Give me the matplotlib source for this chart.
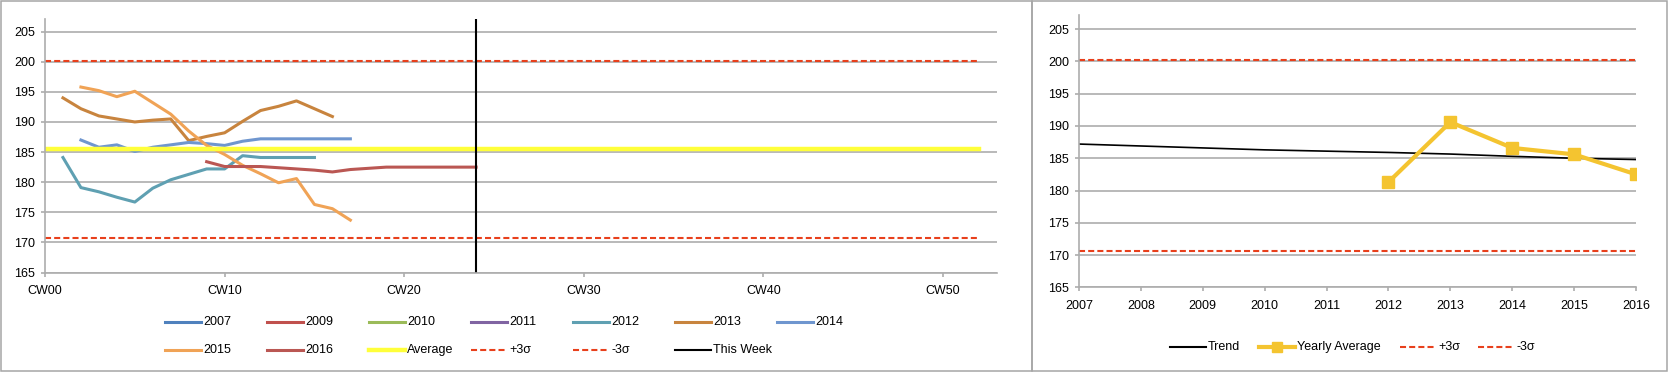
import matplotlib
matplotlib.use("Agg")
import matplotlib.pyplot as plt
from matplotlib.lines import Line2D
from matplotlib.patches import Rectangle

# ---- data: left chart (weekly values per year) ----
WEEK_TICKS = [0, 10, 20, 30, 40, 50]
WEEK_LABELS = ["CW00", "CW10", "CW20", "CW30", "CW40", "CW50"]

weeks_2012 = list(range(1, 16))
vals_2012 = [184.1, 179.1, 178.4, 177.5, 176.7, 179.0, 180.4, 181.3, 182.2, 182.2,
             184.4, 184.1, 184.1, 184.1, 184.1]
weeks_2013 = list(range(1, 17))
vals_2013 = [194.0, 192.2, 191.0, 190.5, 190.0, 190.3, 190.5, 186.9, 187.6, 188.2,
             190.1, 191.9, 192.6, 193.5, 192.2, 190.9]
weeks_2014 = list(range(2, 18))
vals_2014 = [187.0, 185.8, 186.2, 185.1, 185.8, 186.2, 186.6, 186.4, 186.1, 186.8,
             187.2, 187.2, 187.2, 187.2, 187.2, 187.2]
weeks_2015 = list(range(2, 18))
vals_2015 = [195.8, 195.2, 194.2, 195.1, 193.2, 191.3, 188.5, 186.1, 184.6, 182.8,
             181.4, 179.9, 180.6, 176.3, 175.6, 173.7]
weeks_2016 = list(range(9, 25))
vals_2016 = [183.4, 182.6, 182.6, 182.6, 182.4, 182.2, 182.0, 181.7, 182.1, 182.3,
             182.5, 182.5, 182.5, 182.5, 182.5, 182.5]

avg_weeks = [0, 52]
avg_vals = [185.5, 185.5]
plus3_vals = [200.2, 200.2]
minus3_vals = [170.7, 170.7]
this_week_x = [24, 24]
this_week_y = [165, 207.1]

# ---- data: right chart (yearly) ----
years = [2007, 2008, 2009, 2010, 2011, 2012, 2013, 2014, 2015, 2016]
trend_vals = [187.2, 186.9, 186.6, 186.3, 186.1, 185.9, 185.65, 185.3, 185.0, 184.8]
avg_years = [2012, 2013, 2014, 2015, 2016]
yearly_avg = [181.3, 190.6, 186.6, 185.6, 182.5]
sigma_years = [2007, 2016]
plus3_year = [200.3, 200.3]
minus3_year = [170.7, 170.7]

YTICKS = [165, 170, 175, 180, 185, 190, 195, 200, 205]

COLORS = {
    "2007": "#4F81BD",
    "2009": "#C0504D",
    "2010": "#9BBB59",
    "2011": "#8064A2",
    "2012": "#5FA0B2",
    "2013": "#C8843E",
    "2014": "#6F96CF",
    "2015": "#F0A356",
    "2016": "#BA5753",
    "Average": "#FFFF3A",
    "sigma": "#E8401C",
    "week": "#000000",
    "yearly": "#F4C430",
}

W, H = 1669, 372
GRID = "#ADADAD"
SANS = ["Liberation Sans", "DejaVu Sans"]
DASH = (2.9, 1.5)
TEXT_SIZE = 9


def px_box(x0, y_top, x1, y_bot):
    return [x0 / W, 1 - y_bot / H, (x1 - x0) / W, (y_bot - y_top) / H]


def style_axes(ax):
    for side in ["top", "right"]:
        ax.spines[side].set_visible(False)
    for side in ["left", "bottom"]:
        ax.spines[side].set_color(GRID)
        ax.spines[side].set_linewidth(1.2)
    ax.set_yticks(YTICKS)
    ax.set_yticklabels([str(v) for v in YTICKS], fontsize=TEXT_SIZE, family=SANS)
    ax.grid(True, axis="y", color=GRID, linewidth=1.2)
    ax.set_axisbelow(True)
    ax.tick_params(axis="both", direction="out", length=3, color=GRID, width=1.2)
    ax.tick_params(axis="y", pad=4)


def legend_entry(fig, x, y, label, color, lw, dashed=False, marker=None):
    kw = dict(color=color, linewidth=lw, transform=fig.transFigure)
    if dashed:
        kw["dashes"] = DASH
    line = Line2D([x / W, (x + 36) / W], [1 - y / H, 1 - y / H], **kw)
    fig.add_artist(line)
    if marker:
        fig.add_artist(Line2D([(x + 18) / W], [1 - y / H], marker=marker, markersize=7,
                              color=color, linestyle="none", transform=fig.transFigure))
    fig.text((x + 38) / W, 1 - y / H, label, fontsize=TEXT_SIZE, family=SANS,
             va="center", ha="left")


fig = plt.figure(figsize=(W / 100, H / 100), dpi=100)

# frames
fig.add_artist(Rectangle((1 / W, 1 - 370.5 / H), 1030.5 / W, 369.5 / H, fill=False,
                         edgecolor="#A6A6A6", linewidth=1.1, transform=fig.transFigure))
fig.add_artist(Rectangle((1031.5 / W, 1 - 370.5 / H), 635.5 / W, 369.5 / H, fill=False,
                         edgecolor="#A6A6A6", linewidth=1.1, transform=fig.transFigure))

# ---- left chart ----
ax = fig.add_axes(px_box(45, 19, 997, 272.5))
style_axes(ax)
lw = 2.2
ax.plot(weeks_2012, vals_2012, color=COLORS["2012"], linewidth=lw)
ax.plot(weeks_2013, vals_2013, color=COLORS["2013"], linewidth=lw)
ax.plot(weeks_2014, vals_2014, color=COLORS["2014"], linewidth=lw)
ax.plot(weeks_2015, vals_2015, color=COLORS["2015"], linewidth=lw)
ax.plot(weeks_2016, vals_2016, color=COLORS["2016"], linewidth=lw)
ax.plot(avg_weeks, avg_vals, color=COLORS["Average"], linewidth=3.2)
ax.plot(avg_weeks, plus3_vals, color=COLORS["sigma"], linewidth=1.5, dashes=DASH)
ax.plot(avg_weeks, minus3_vals, color=COLORS["sigma"], linewidth=1.5, dashes=DASH)
ax.plot(this_week_x, this_week_y, color=COLORS["week"], linewidth=1.5)
ax.set_xlim(0, 53)
ax.set_ylim(165, 207.1)
ax.set_xticks(WEEK_TICKS)
ax.set_xticklabels(WEEK_LABELS, fontsize=TEXT_SIZE, family=SANS)
ax.tick_params(axis="x", pad=6)

left_cols = [165 + 102 * i for i in range(7)]
row1 = [("2007", "2007"), ("2009", "2009"), ("2010", "2010"), ("2011", "2011"),
        ("2012", "2012"), ("2013", "2013"), ("2014", "2014")]
for x, (label, key) in zip(left_cols, row1):
    legend_entry(fig, x, 322, label, COLORS[key], 2.2)
legend_entry(fig, left_cols[0], 350, "2015", COLORS["2015"], 2.2)
legend_entry(fig, left_cols[1], 350, "2016", COLORS["2016"], 2.2)
legend_entry(fig, left_cols[2], 350, "Average", COLORS["Average"], 3.2)
legend_entry(fig, left_cols[3], 350, "+3σ", COLORS["sigma"], 1.5, dashed=True)
legend_entry(fig, left_cols[4], 350, "-3σ", COLORS["sigma"], 1.5, dashed=True)
legend_entry(fig, left_cols[5], 350, "This Week", COLORS["week"], 1.5)

# ---- right chart ----
ax2 = fig.add_axes(px_box(1079, 15, 1636, 287.3))
style_axes(ax2)
ax2.plot(years, trend_vals, color="#000000", linewidth=1.2)
ax2.plot(avg_years, yearly_avg, color=COLORS["yearly"], linewidth=3.0,
         marker="s", markersize=8.5)
ax2.plot(sigma_years, plus3_year, color=COLORS["sigma"], linewidth=1.5, dashes=DASH)
ax2.plot(sigma_years, minus3_year, color=COLORS["sigma"], linewidth=1.5, dashes=DASH)
ax2.set_xlim(2007, 2016)
ax2.set_ylim(165, 207.2)
ax2.set_xticks(years)
ax2.set_xticklabels([str(y) for y in years], fontsize=TEXT_SIZE, family=SANS)
ax2.tick_params(axis="x", pad=6)

legend_entry(fig, 1170, 347, "Trend", "#000000", 1.5)
legend_entry(fig, 1259, 347, "Yearly Average", COLORS["yearly"], 3.0, marker="s")
legend_entry(fig, 1400, 347, "+3σ", COLORS["sigma"], 1.5, dashed=True)
legend_entry(fig, 1478, 347, "-3σ", COLORS["sigma"], 1.5, dashed=True)

fig.savefig("out.png", dpi=100)
